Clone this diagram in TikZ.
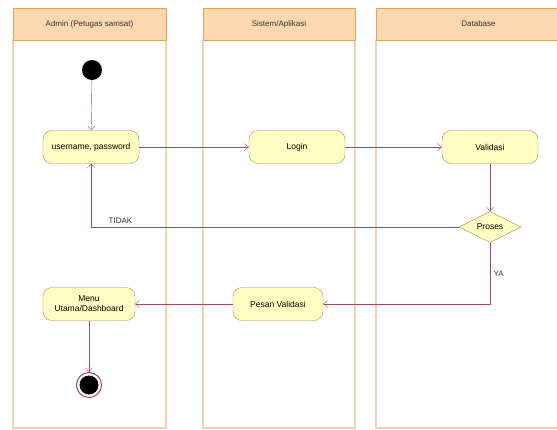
\documentclass[tikz,border=0pt]{standalone}
\usepackage{fontspec}
\setmainfont{Liberation Sans}
\usepackage{tikz}
\usetikzlibrary{
  positioning,
  arrows.meta,
  shapes.geometric
}
\definecolor{lanehead}{HTML}{FBD8AE}
\definecolor{laneedge}{HTML}{E6A35A}
\definecolor{laneline}{HTML}{F2D2B6}
\definecolor{actfill}{HTML}{FFFFC4}
\definecolor{actedge}{HTML}{A88A4E}
\definecolor{flow}{HTML}{A5485E}
\tikzset{
  lane/.style={
    draw=laneline,
    line width=1.2pt,
  },
  lanehdr/.style={
    draw=laneedge,
    fill=lanehead,
    line width=1pt,
    minimum height=32pt,
    font=\fontsize{8}{9}\selectfont,
    text=black!80,
  },
  act/.style={
    draw=actedge,
    fill=actfill,
    rounded corners=9pt,
    minimum width=96pt,
    minimum height=33pt,
    align=center,
    font=\fontsize{8.5}{10}\selectfont,
  },
  choice/.style={
    diamond,
    draw=actedge,
    fill=actfill,
    aspect=2,
    inner sep=0pt,
    minimum width=62pt,
    minimum height=31pt,
    font=\fontsize{8.5}{10}\selectfont,
  },
  initial/.style={
    circle,
    fill=black,
    minimum size=20pt,
  },
  final/.style={
    circle,
    draw=flow,
    line width=1pt,
    fill=white,
    minimum size=25pt,
    path picture={\fill[black] (path picture bounding box.center) circle (9.5pt);},
  },
  edge/.style={
    draw=flow,
    ->,
    >={Straight Barb[length=4pt,width=7pt]},
  },
  guard/.style={
    font=\fontsize{8}{9}\selectfont,
    text=black!80,
  },
}

\begin{document}
\begin{tikzpicture}[x=1pt,y=-1pt]
  \useasboundingbox (0,0) rectangle (557,429);

  % swimlanes
  \draw[lane] (13,40) rectangle (166,428);
  \draw[lane] (203,40) rectangle (355,428);
  \draw[lane] (376,40) -- (376,428) -- (557,428);
  \node[lanehdr,minimum width=153pt] (laneadmin) at (89.5,24) {Admin (Petugas samsat)};
  \node[lanehdr,minimum width=152pt] (lanesys) at (279,24) {Sistem/Aplikasi};
  \node[lanehdr,minimum width=204pt,anchor=west] (lanedb) at (376,24) {Database};

  % nodes
  \node[initial] (start) at (92,70) {};
  \node[act] (user) at (91,147) {username, password};
  \node[act] (login) at (297,147) {Login};
  \node[act] (valid) at (490,147) {Validasi};
  \node[choice] (proses) at (490,227) {Proses};
  \node[act,minimum width=90pt] (pesan) at (278,304) {Pesan Validasi};
  \node[act,minimum width=92pt] (menu) at (89,304) {Menu\\Utama/Dashboard};
  \node[final] (stop) at (89,385) {};

  % edges
  \draw[edge] (start) -- (user);
  \draw[edge] (user) -- (login);
  \draw[edge] (login) -- (valid);
  \draw[edge] (valid) -- (proses);
  \draw[edge] (proses.west) -| node[guard,pos=0.46,above] {TIDAK} (user.south);
  \draw[edge] (proses.south) |- node[guard,pos=0.25,right] {YA} (pesan.east);
  \draw[edge] (pesan) -- (menu);
  \draw[edge] (menu) -- (stop);

\end{tikzpicture}
\end{document}
